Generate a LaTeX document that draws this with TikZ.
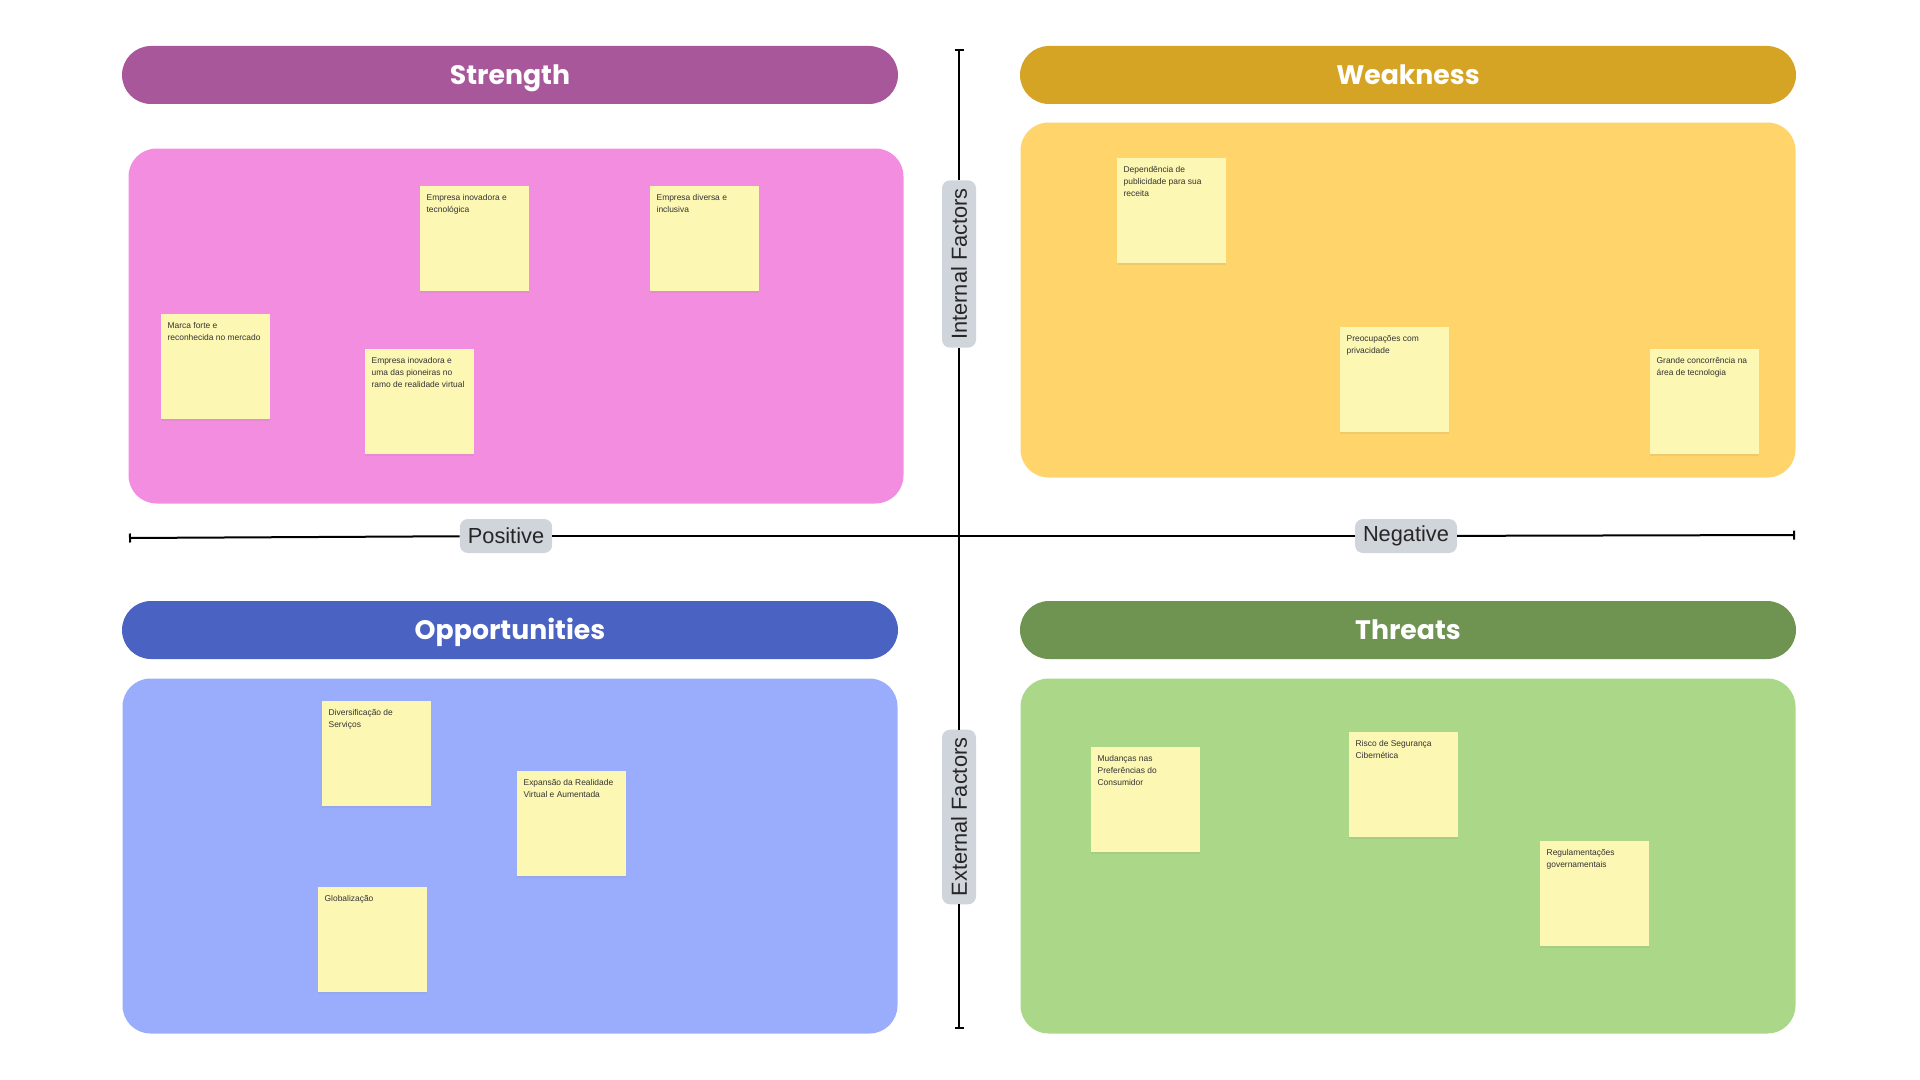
\documentclass[tikz,border=0pt]{standalone}
\usepackage{fontspec}
\setmainfont{Liberation Sans}
\newfontfamily\headfont{Poppins}
\usetikzlibrary{arrows.meta,shadows}

\newdimen\px \px=0.5mm

\definecolor{strHead}{HTML}{A8579A}
\definecolor{strPanel}{HTML}{F38DE0}
\definecolor{weakHead}{HTML}{D5A425}
\definecolor{weakPanel}{HTML}{FFD56B}
\definecolor{oppHead}{HTML}{4A62C2}
\definecolor{oppPanel}{HTML}{9AADFD}
\definecolor{thrHead}{HTML}{6F9452}
\definecolor{thrPanel}{HTML}{ABD888}
\definecolor{noteFill}{HTML}{FDF7B4}
\definecolor{noteText}{HTML}{333333}
\definecolor{tagGray}{HTML}{D0D4DB}

\tikzset{
  header/.style={rounded corners=29\px, minimum width=776\px, minimum height=58\px,
    text height=27pt, text depth=0pt,
    text=white, font=\headfont\bfseries\fontsize{38}{44}\selectfont},
  panel/.style={rounded corners=28\px, minimum width=775\px, minimum height=355\px},
  sticky/.style={fill=noteFill, anchor=north west, inner xsep=6.5\px, inner ysep=8.5\px,
    text=noteText, font=\fontsize{12}{17}\selectfont,
    drop shadow={shadow xshift=0pt, shadow yshift=-2\px, opacity=0.12}},
  tag/.style={fill=tagGray, rounded corners=8\px, minimum height=34\px, inner xsep=8\px,
    text=black!85, font=\fontsize{31}{36}\selectfont},
  axis/.style={line width=2\px, black}
}

\newcommand{\notebody}[1]{\parbox[t][88\px][t]{96\px}{\raggedright #1}}

\begin{document}
\begin{tikzpicture}[x=0.5mm, y=-0.5mm]
    \useasboundingbox (0,0) rectangle (1920,1080);

    % Cabeçalhos
    \node[header, fill=strHead] (strength) at (510,75) {Strength};
    \node[header, fill=weakHead] (weakness) at (1408,75) {Weakness};
    \node[header, fill=oppHead] (opportunities) at (510,630) {Opportunities};
    \node[header, fill=thrHead] (threats) at (1408,630) {Threats};

    % Quadros
    \node[panel, fill=strPanel] (strPanel) at (516,326) {};
    \node[panel, fill=weakPanel] (weakPanel) at (1408,300) {};
    \node[panel, fill=oppPanel] (oppPanel) at (510,856) {};
    \node[panel, fill=thrPanel] (thrPanel) at (1408,856) {};

    % Notas - Strength
    \node[sticky] (s1) at (161,314) {\notebody{Marca forte e\\reconhecida no mercado}};
    \node[sticky] (s2) at (420,186) {\notebody{Empresa inovadora e\\tecnológica}};
    \node[sticky] (s3) at (650,186) {\notebody{Empresa diversa e\\inclusiva}};
    \node[sticky] (s4) at (365,349) {\notebody{Empresa inovadora e\\uma das pioneiras no\\ramo de realidade virtual}};

    % Notas - Weakness
    \node[sticky] (w1) at (1117,158) {\notebody{Dependência de\\publicidade para sua\\receita}};
    \node[sticky] (w2) at (1340,327) {\notebody{Preocupações com\\privacidade}};
    \node[sticky] (w3) at (1650,349) {\notebody{Grande concorrência na\\área de tecnologia}};

    % Notas - Opportunities
    \node[sticky] (o1) at (322,701) {\notebody{Diversificação de\\Serviços}};
    \node[sticky] (o2) at (517,771) {\notebody{Expansão da Realidade\\Virtual e Aumentada}};
    \node[sticky] (o3) at (318,887) {\notebody{Globalização}};

    % Notas - Threats
    \node[sticky] (t1) at (1091,747) {\notebody{Mudanças nas\\Preferências do\\Consumidor}};
    \node[sticky] (t2) at (1349,732) {\notebody{Risco de Segurança\\Cibernética}};
    \node[sticky] (t3) at (1540,841) {\notebody{Regulamentações\\governamentais}};

    % Eixos
    \node[tag] (positive) at (506,536) {Positive};
    \node[tag] (negative) at (1406,536) {Negative};
    \node[tag, rotate=90] (internal) at (959,264) {Internal Factors};
    \node[tag, rotate=90] (external) at (959,817) {External Factors};

    \coordinate (axisW) at (129,538);
    \coordinate (axisE) at (1795,535);
    \coordinate (axisN) at (959,49);
    \coordinate (axisS) at (959,1029);

    \draw[axis, {Bar[width=4.5mm]}-] (axisW) -- (positive);
    \draw[axis] (positive) -- (negative);
    \draw[axis, -{Bar[width=4.5mm]}] (negative) -- (axisE);
    \draw[axis, {Bar[width=4.5mm]}-] (axisN) -- (internal);
    \draw[axis] (internal) -- (external);
    \draw[axis, -{Bar[width=4.5mm]}] (external) -- (axisS);

\end{tikzpicture}
\end{document}
